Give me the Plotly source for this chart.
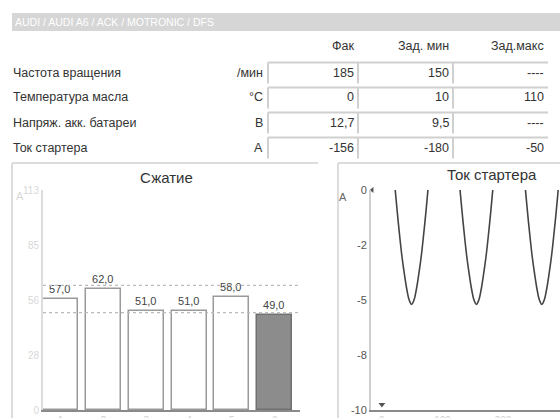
import plotly.graph_objects as go

W, H = 560, 418

# ---------------- data ----------------
header_path = "AUDI / AUDI A6 / ACK / MOTRONIC / DFS"
table_columns = ["Фак", "Зад. мин", "Зад.макс"]
row_labels = ["Частота вращения", "Температура масла", "Напряж. акк. батареи", "Ток стартера"]
row_units = ["/мин", "°C", "В", "А"]
val_fact = ["185", "0", "12,7", "-156"]
val_min = ["150", "10", "9,5", "-180"]
val_max = ["----", "110", "----", "-50"]

cyl_labels = ["1", "2", "3", "4", "5", "6"]
compression = [57.0, 62.0, 51.0, 51.0, 58.0, 49.0]
compression_limits = [50, 64]
comp_ticks = [0, 28.25, 56.5, 84.75, 113]
comp_ticktext = ["0", "28", "56", "85", "113"]

current_t = [0, 10, 19, 22, 25, 29, 33, 37, 41, 45, 49, 53, 57, 61, 65, 69, 73, 76, 79, 103,
             126, 129, 132, 136, 140, 144, 148, 152, 156, 160, 164, 168, 172, 176, 180, 183, 186, 210,
             234, 237, 240, 244, 248, 252, 256, 260, 264, 268, 272, 276, 280, 284, 288, 291, 294, 310]
current_a = [3.0, 3.0, 0.9, 0.0, -0.9, -2.0, -3.0, -3.8, -4.5, -5.0, -5.2, -5.0, -4.5, -3.8, -3.0, -2.0, -0.9, 0.0, 0.9, 3.0,
             0.9, 0.0, -0.9, -2.0, -3.0, -3.8, -4.5, -5.0, -5.2, -5.0, -4.5, -3.8, -3.0, -2.0, -0.9, 0.0, 0.9, 3.0,
             0.9, 0.0, -0.9, -2.0, -3.0, -3.8, -4.5, -5.0, -5.2, -5.0, -4.5, -3.8, -3.0, -2.0, -0.9, 0.0, 0.9, 3.0]
cur_ticks = [0, -2.5, -5, -7.5, -10]
cur_ticktext = ["0", "-2", "-5", "-8", "-10"]
time_ticks = [0, 100, 200, 300]

FONT = "Liberation Sans, Arial, sans-serif"


def px(x):
    return x / W


def py(y):
    return 1 - y / H


fig = go.Figure()

# ---------------- compression bars ----------------
fig.add_trace(go.Bar(
    x=list(range(len(compression))), y=compression,
    width=0.817,
    marker=dict(color=["white"] * 5 + ["#8c8c8c"],
                line=dict(color=["#9a9a9a"] * 5 + ["#707070"], width=1.5)),
    text=[f"{v:.1f}".replace(".", ",") for v in compression],
    textposition="outside", cliponaxis=False,
    textfont=dict(size=11, color="#444", family=FONT),
    xaxis="x", yaxis="y", showlegend=False, hoverinfo="skip",
))

# ---------------- starter current ----------------
fig.add_trace(go.Scatter(
    x=current_t, y=current_a, mode="lines", line=dict(color="#444", width=1.6, shape="spline"),
    xaxis="x2", yaxis="y2", showlegend=False, hoverinfo="skip",
))
fig.add_trace(go.Scatter(
    x=[-16], y=[0], mode="markers", marker=dict(symbol="triangle-left", size=5, color="#555"),
    xaxis="x2", yaxis="y2", showlegend=False, cliponaxis=False, hoverinfo="skip",
))
fig.add_trace(go.Scatter(
    x=[0], y=[-9.75], mode="markers", marker=dict(symbol="triangle-down", size=6, color="#555"),
    xaxis="x2", yaxis="y2", showlegend=False, cliponaxis=False, hoverinfo="skip",
))

shapes = []
annotations = []

# header bar
shapes.append(dict(type="rect", xref="paper", yref="paper", x0=px(12), x1=px(560), y0=py(31), y1=py(13),
                   fillcolor="#d6d6d6", line=dict(width=0), layer="below"))
annotations.append(dict(text=header_path, x=px(13), y=py(22), xref="paper", yref="paper", xanchor="left",
                        yanchor="middle", showarrow=False, font=dict(size=10.5, color="white", family=FONT)))

# table header
col_right = [356, 451, 546]
col_edges = [268, 358, 453, 548]
TS = 12.5
for c, t in enumerate(table_columns):
    annotations.append(dict(text=t, x=px(col_right[c]), y=py(46), xref="paper", yref="paper",
                            xanchor="right", yanchor="middle", showarrow=False,
                            font=dict(size=TS, color="#333", family=FONT)))

row_y = [72.5, 97.5, 122.5, 147.5]
vals = [val_fact, val_min, val_max]
for r, lab in enumerate(row_labels):
    yc = row_y[r]
    annotations.append(dict(text=lab, x=px(11), y=py(yc), xref="paper", yref="paper", xanchor="left",
                            yanchor="middle", showarrow=False, font=dict(size=TS, color="#333", family=FONT)))
    annotations.append(dict(text=row_units[r], x=px(265), y=py(yc), xref="paper", yref="paper", xanchor="right",
                            yanchor="middle", showarrow=False, font=dict(size=TS, color="#333", family=FONT)))
    top = yc - 10
    for c in range(3):
        x0, x1 = col_edges[c], col_edges[c + 1]
        shapes.append(dict(type="line", xref="paper", yref="paper", x0=px(x0), x1=px(x1), y0=py(top), y1=py(top),
                           line=dict(color="#d0d0d0", width=2)))
        shapes.append(dict(type="line", xref="paper", yref="paper", x0=px(x0), x1=px(x0), y0=py(top), y1=py(top + 21),
                           line=dict(color="#d0d0d0", width=2)))
        annotations.append(dict(text=vals[c][r], x=px(col_right[c]), y=py(yc), xref="paper", yref="paper",
                                xanchor="right", yanchor="middle", showarrow=False,
                                font=dict(size=TS, color="#333", family=FONT)))

# panel frames
frame = dict(color="#dcdcdc", width=2)
shapes += [
    dict(type="line", xref="paper", yref="paper", x0=px(12), x1=px(318), y0=py(163), y1=py(163), line=frame),
    dict(type="line", xref="paper", yref="paper", x0=px(12), x1=px(12), y0=py(163), y1=py(418), line=frame),
    dict(type="line", xref="paper", yref="paper", x0=px(338), x1=px(560), y0=py(163), y1=py(163), line=frame),
    dict(type="line", xref="paper", yref="paper", x0=px(338), x1=px(338), y0=py(163), y1=py(418), line=frame),
]

# compression limit lines
for lim in compression_limits:
    shapes.append(dict(type="line", xref="x domain", yref="y", x0=0, x1=1, y0=lim, y1=lim,
                       line=dict(color="#bbbbbb", width=1.2, dash="3px,3px")))

# titles and unit labels
annotations.append(dict(text="Сжатие", x=px(166), y=py(177), xref="paper", yref="paper", xanchor="center",
                        yanchor="middle", showarrow=False, font=dict(size=15, color="#333", family=FONT)))
annotations.append(dict(text="Ток стартера", x=px(492), y=py(174), xref="paper", yref="paper", xanchor="center",
                        yanchor="middle", showarrow=False, font=dict(size=15, color="#333", family=FONT)))
annotations.append(dict(text="А", x=px(20), y=py(196), xref="paper", yref="paper", xanchor="center",
                        yanchor="middle", showarrow=False, font=dict(size=11, color="#d8d8d8", family=FONT)))
annotations.append(dict(text="A", x=px(343), y=py(197), xref="paper", yref="paper", xanchor="center",
                        yanchor="middle", showarrow=False, font=dict(size=11, color="#666", family=FONT)))

light = "#cfcfcf"
fig.update_layout(
    width=W, height=H, margin=dict(l=0, r=0, t=0, b=0, pad=0), autosize=False,
    paper_bgcolor="white", plot_bgcolor="white",
    font=dict(family=FONT),
    shapes=shapes, annotations=annotations, bargap=0,
    xaxis=dict(domain=[px(43), px(300)], range=[-0.409, 5.591], tickvals=list(range(6)), ticktext=cyl_labels,
               tickfont=dict(size=10, color=light), ticks="", automargin=False,
               showline=True, linecolor="#8a8a8a", linewidth=2, showgrid=False, zeroline=False, fixedrange=True),
    yaxis=dict(domain=[py(410), py(190)], range=[0, 113], tickvals=comp_ticks, ticktext=comp_ticktext,
               tickfont=dict(size=10, color="#d8d8d8"), showline=True, linecolor="#dcdcdc", linewidth=2,
               automargin=False,
               showgrid=False, zeroline=False, ticks="", fixedrange=True),
    xaxis2=dict(domain=[px(371), 1], range=[-18, 294], tickvals=time_ticks, anchor="y2",
                tickfont=dict(size=10, color=light), ticks="", automargin=False,
                showline=True, linecolor="#8a8a8a", linewidth=2, showgrid=False, zeroline=False, fixedrange=True),
    yaxis2=dict(domain=[py(410), py(190)], range=[-10, 0], tickvals=cur_ticks, ticktext=cur_ticktext, anchor="x2",
                tickfont=dict(size=11, color="#555"), showline=True, linecolor="#cfcfcf", linewidth=2,
                automargin=False,
                showgrid=False, zeroline=False, ticks="", fixedrange=True),
)

fig.write_html("out.html", config={"displayModeBar": False},
               post_script="document.body.style.margin='0';document.body.style.overflow='hidden';")
